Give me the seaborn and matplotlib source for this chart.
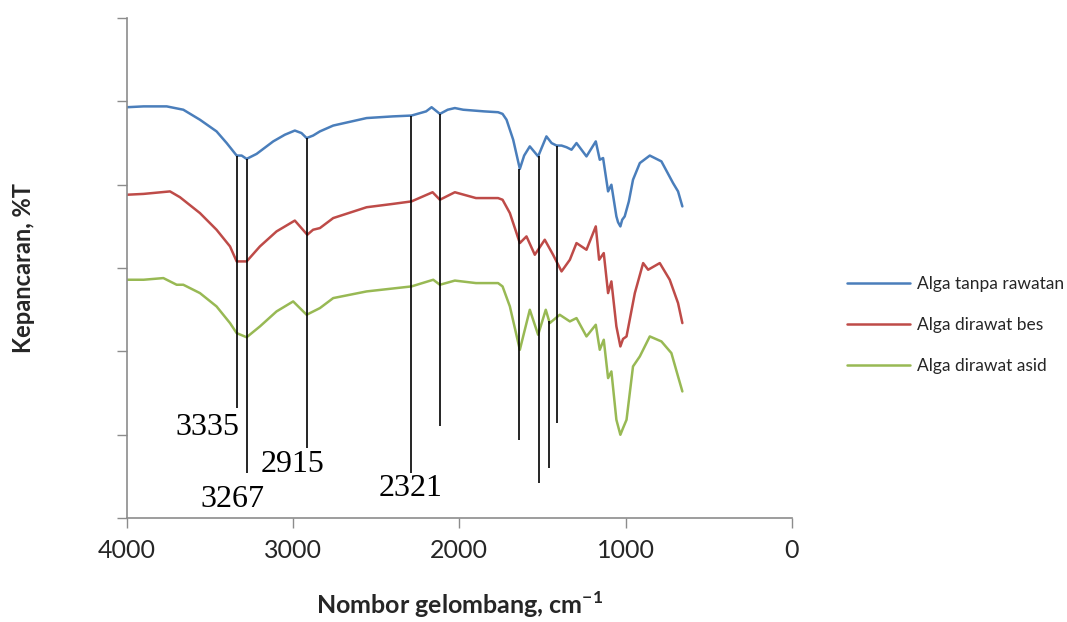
import matplotlib
matplotlib.use("Agg")
import matplotlib.pyplot as plt
import seaborn as sns
import pandas as pd

# --- data (wavenumber cm-1, arbitrary %T offset units) ---
blue_wn = [4000, 3900, 3761, 3661, 3561, 3461, 3400, 3340, 3310, 3280, 3220, 3120, 3050, 2990, 2950,
           2919, 2880, 2839, 2759, 2558, 2400, 2288, 2200, 2167, 2117, 2070, 2027, 1977, 1850, 1767,
           1740, 1716, 1676, 1636, 1610, 1576, 1526, 1476, 1445, 1415, 1385, 1355, 1325, 1295, 1235,
           1179, 1155, 1135, 1105, 1085, 1055, 1045, 1031, 1020, 1005, 980, 955, 914, 854, 784,
           714, 684, 658]
blue_t = [4.93, 4.94, 4.94, 4.90, 4.78, 4.64, 4.50, 4.35, 4.35, 4.31, 4.37, 4.52, 4.60, 4.65, 4.62,
          4.56, 4.59, 4.64, 4.71, 4.80, 4.82, 4.83, 4.88, 4.93, 4.85, 4.90, 4.92, 4.90, 4.88, 4.87,
          4.85, 4.78, 4.54, 4.19, 4.35, 4.46, 4.34, 4.58, 4.50, 4.47, 4.47, 4.45, 4.42, 4.50, 4.34,
          4.52, 4.30, 4.32, 3.92, 4.00, 3.62, 3.55, 3.50, 3.58, 3.62, 3.80, 4.06, 4.26, 4.35, 4.28,
          4.02, 3.92, 3.74]

red_wn = [4000, 3900, 3741, 3681, 3561, 3461, 3380, 3340, 3280, 3200, 3100, 2990, 2915, 2880, 2839,
          2759, 2558, 2400, 2288, 2161, 2117, 2027, 1900, 1767, 1740, 1696, 1636, 1596, 1546, 1486,
          1436, 1385, 1335, 1295, 1235, 1179, 1159, 1131, 1105, 1085, 1055, 1031, 1015, 994, 944,
          894, 864, 794, 734, 684, 658]
red_t = [3.88, 3.89, 3.92, 3.85, 3.66, 3.46, 3.26, 3.08, 3.08, 3.26, 3.44, 3.57, 3.40, 3.46, 3.48,
         3.60, 3.73, 3.77, 3.80, 3.91, 3.82, 3.91, 3.84, 3.84, 3.82, 3.66, 3.30, 3.38, 3.16, 3.34,
         3.16, 2.96, 3.10, 3.30, 3.22, 3.50, 3.10, 3.18, 2.70, 2.84, 2.30, 2.06, 2.15, 2.18, 2.70,
         3.06, 2.98, 3.06, 2.86, 2.58, 2.34]

green_wn = [4000, 3900, 3781, 3701, 3661, 3561, 3461, 3380, 3340, 3280, 3200, 3100, 3000, 2919, 2839,
            2759, 2558, 2288, 2157, 2117, 2027, 1900, 1767, 1740, 1696, 1636, 1576, 1526, 1480, 1456,
            1396, 1335, 1295, 1235, 1179, 1155, 1131, 1105, 1085, 1055, 1031, 1015, 994, 955, 914,
            854, 784, 724, 684, 658]
green_t = [2.86, 2.86, 2.88, 2.80, 2.80, 2.70, 2.54, 2.34, 2.22, 2.17, 2.30, 2.48, 2.60, 2.44, 2.52,
           2.64, 2.72, 2.78, 2.86, 2.80, 2.85, 2.82, 2.82, 2.78, 2.54, 2.02, 2.50, 2.20, 2.50, 2.34,
           2.44, 2.36, 2.40, 2.18, 2.32, 2.02, 2.14, 1.68, 1.76, 1.18, 1.00, 1.08, 1.18, 1.82, 1.94,
           2.18, 2.12, 1.98, 1.70, 1.52]

series_names = ["Alga tanpa rawatan", "Alga dirawat bes", "Alga dirawat asid"]
series_colors = ["#4a7ebb", "#be4b48", "#98b954"]

# peak marker lines: position, lower end, upper end
peak_wn = [3340, 3275, 2915, 2290, 2117, 1640, 1522, 1460, 1412]
peak_lo = [1.32, 0.54, 0.84, 0.54, 1.10, 0.94, 0.42, 0.60, 1.14]
peak_hi = [4.35, 4.31, 4.56, 4.83, 4.85, 4.19, 4.34, 2.36, 4.47]

# peak labels
label_text = ["3335", "3267", "2915", "2321"]
label_wn = [3513, 3368, 3001, 2292]
label_t = [1.09, 0.22, 0.64, 0.35]

df = pd.concat([
    pd.DataFrame({"wn": blue_wn, "T": blue_t, "sample": series_names[0]}),
    pd.DataFrame({"wn": red_wn, "T": red_t, "sample": series_names[1]}),
    pd.DataFrame({"wn": green_wn, "T": green_t, "sample": series_names[2]}),
])

sns.set_style("white")
plt.rcParams["font.family"] = ["Lato", "DejaVu Sans"]
plt.rcParams["mathtext.fontset"] = "custom"
plt.rcParams["mathtext.rm"] = "Lato"
plt.rcParams["mathtext.bf"] = "Lato:bold"

fig = plt.figure(figsize=(10.67, 6.22), dpi=100)
ax = fig.add_axes([0.119, 0.167, 0.623, 0.804])

sns.lineplot(data=df, x="wn", y="T", hue="sample", hue_order=series_names,
             palette=dict(zip(series_names, series_colors)), sort=False, estimator=None,
             linewidth=1.8, legend=False, ax=ax)

ax.vlines(peak_wn, peak_lo, peak_hi, color="black", linewidth=1.2, zorder=3)

for txt, x, y in zip(label_text, label_wn, label_t):
    ax.text(x, y, txt, ha="center", va="center", fontsize=23, family="Liberation Serif", color="black")

ax.set_xlim(4000, 0)
ax.set_ylim(0, 6)
ax.set_xticks([4000, 3000, 2000, 1000, 0])
ax.set_yticks(range(7))
ax.set_yticklabels([])
ax.tick_params(axis="both", which="major", direction="out", length=7, width=1,
               color="#8c8c8c", labelsize=18, labelcolor="#262626", left=True, bottom=True)
ax.tick_params(axis="x", pad=8)
for side in ["top", "right"]:
    ax.spines[side].set_visible(False)
for side in ["left", "bottom"]:
    ax.spines[side].set_color("#8c8c8c")
    ax.spines[side].set_linewidth(1.2)

ax.set_xlabel(r"Nombor gelombang, cm$^{\mathbf{-1}}$", fontsize=18, fontweight="bold", labelpad=20)
ax.set_ylabel("Kepancaran, %T", fontsize=17, fontweight="bold", labelpad=56)

fig.legend(handles=ax.lines[:3], labels=series_names, loc="center left",
           bbox_to_anchor=(0.794, 0.477), frameon=False, fontsize=12.5, handlelength=3.6,
           handletextpad=0.4, labelspacing=1.45, borderpad=0, borderaxespad=0,
           labelcolor="#262626")

fig.savefig("out.png", dpi=100)
